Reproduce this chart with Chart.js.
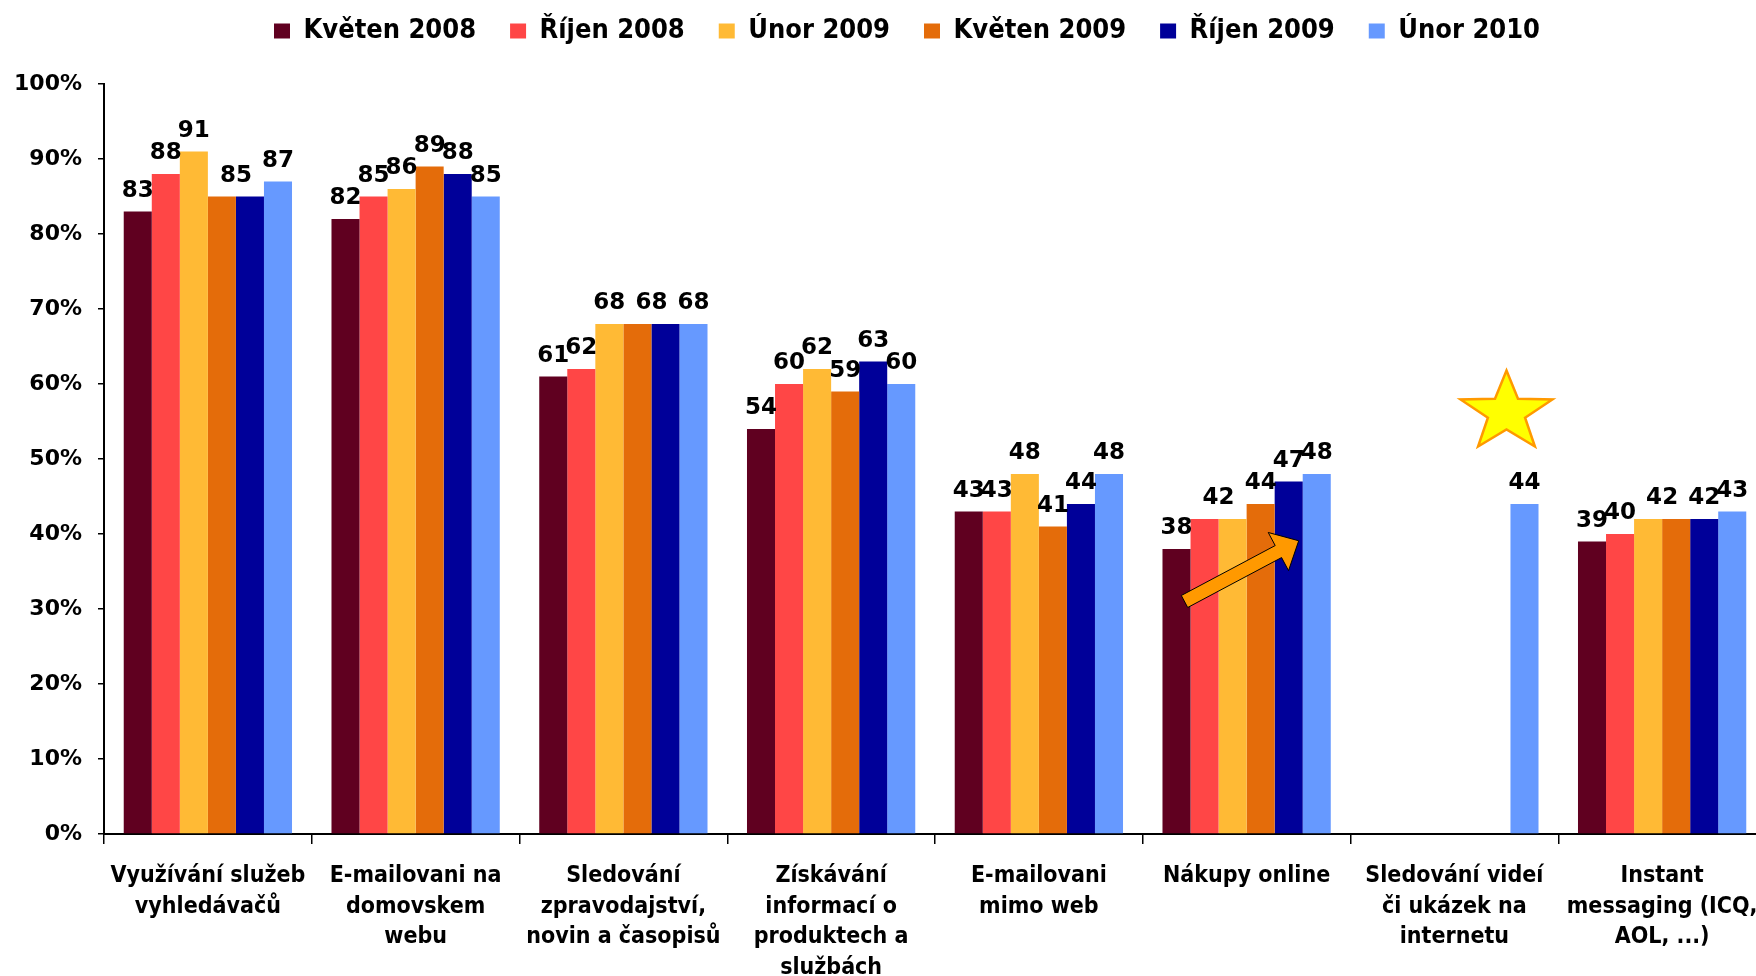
<!DOCTYPE html>
<html>
<head>
<meta charset="utf-8">
<script src="https://cdn.jsdelivr.net/npm/chart.js@4.4.0/dist/chart.umd.min.js"></script>
<style>
  html, body { margin: 0; padding: 0; background: #fff; overflow: hidden; }
  canvas { display: block; }
</style>
</head>
<body>
<canvas id="chart" width="1766" height="976"></canvas>
<script>
// --- data ---
const categories = [
  ["Využívání služeb", "vyhledávačů"],
  ["E-mailovani na", "domovskem", "webu"],
  ["Sledování", "zpravodajství,", "novin a časopisů"],
  ["Získávání", "informací o", "produktech a", "službách"],
  ["E-mailovani", "mimo web"],
  ["Nákupy online"],
  ["Sledování videí", "či ukázek na", "internetu"],
  ["Instant", "messaging (ICQ,", "AOL, ...)"]
];

const seriesNames = ["Květen 2008", "Říjen 2008", "Únor 2009", "Květen 2009", "Říjen 2009", "Únor 2010"];

const kveten2008 = [83, 82, 61, 54, 43, 38, null, 39];
const rijen2008  = [88, 85, 62, 60, 43, 42, null, 40];
const unor2009   = [91, 86, 68, 62, 48, 42, null, 42];
const kveten2009 = [85, 89, 68, 59, 41, 44, null, 42];
const rijen2009  = [85, 88, 68, 63, 44, 47, null, 42];
const unor2010   = [87, 85, 68, 60, 48, 48, 44, 43];

const yTicks = [0, 10, 20, 30, 40, 50, 60, 70, 80, 90, 100];

// equal neighbouring values that share one label: [category, first series]
const sharedLabels = [[0, 3], [2, 3], [5, 1], [7, 2]];

const seriesColors = ["#600020", "#FF4646", "#FFBA35", "#E46C0A", "#000099", "#6699FF"];
const FONT_NARROW = "'DejaVu Sans Condensed', 'DejaVu Sans'";
const FONT = "'DejaVu Sans'";

// --- plugins ---
// extra gap under the legend, legend nudged right
const legendTweak = {
  id: "legendTweak",
  beforeInit(chart) {
    const legend = chart.legend;
    const fit = legend.fit;
    legend.fit = function () {
      fit.call(this);
      this.height += 29.5;
    };
    const draw = legend.draw;
    legend.draw = function () {
      this.ctx.save();
      this.ctx.translate(24, 0);
      draw.call(this);
      this.ctx.restore();
    };
  }
};

// value labels above bars
const valueLabels = {
  id: "valueLabels",
  afterDatasetsDraw(chart) {
    const ctx = chart.ctx;
    ctx.save();
    ctx.font = "bold 23px " + FONT;
    ctx.fillStyle = "#000";
    ctx.textAlign = "center";
    ctx.textBaseline = "alphabetic";
    chart.data.datasets.forEach((ds, i) => {
      chart.getDatasetMeta(i).data.forEach((bar, j) => {
        const v = ds.data[j];
        if (v == null) return;
        if (sharedLabels.some(([c, s]) => c === j && s + 1 === i)) return;
        let x = bar.x;
        if (sharedLabels.some(([c, s]) => c === j && s === i)) {
          x = (bar.x + chart.getDatasetMeta(i + 1).data[j].x) / 2;
        }
        ctx.fillText(String(v), x, bar.y - 15);
      });
    });
    ctx.restore();
  }
};

// arrow over "Nákupy online" and star over "Sledování videí"
const annotations = {
  id: "annotations",
  afterDraw(chart) {
    const ctx = chart.ctx;
    const y = chart.scales.y;

    // arrow
    const tailBar = chart.getDatasetMeta(0).data[5];
    const tipBar = chart.getDatasetMeta(4).data[5];
    const x0 = tailBar.x + 8, y0 = y.getPixelForValue(31.0);
    const x1 = tipBar.x + 10, y1 = y.getPixelForValue(39.1);
    const len = Math.hypot(x1 - x0, y1 - y0);
    const ux = (x1 - x0) / len, uy = (y1 - y0) / len;
    const nx = -uy, ny = ux;
    const hw = 6.8, headW = 21.6, headL = 23;
    const bx = x1 - ux * headL, by = y1 - uy * headL;
    ctx.save();
    ctx.beginPath();
    ctx.moveTo(x0 + nx * hw, y0 + ny * hw);
    ctx.lineTo(bx + nx * hw, by + ny * hw);
    ctx.lineTo(bx + nx * headW, by + ny * headW);
    ctx.lineTo(x1, y1);
    ctx.lineTo(bx - nx * headW, by - ny * headW);
    ctx.lineTo(bx - nx * hw, by - ny * hw);
    ctx.lineTo(x0 - nx * hw, y0 - ny * hw);
    ctx.closePath();
    ctx.fillStyle = "#FF9900";
    ctx.fill();
    ctx.strokeStyle = "#000";
    ctx.lineWidth = 1;
    ctx.stroke();

    // star
    const starBar = chart.getDatasetMeta(5).data[6];
    const cx = starBar.x - 18, cy = y.getPixelForValue(56.2);
    const R = 42, r = 17, sx = 1.15;
    ctx.beginPath();
    for (let k = 0; k < 10; k++) {
      const a = -Math.PI / 2 + k * Math.PI / 5;
      const rad = k % 2 === 0 ? R : r;
      const px = cx + Math.cos(a) * rad * sx, py = cy + Math.sin(a) * rad;
      if (k === 0) ctx.moveTo(px, py); else ctx.lineTo(px, py);
    }
    ctx.closePath();
    ctx.fillStyle = "#FFFF00";
    ctx.fill();
    ctx.strokeStyle = "#FF9900";
    ctx.lineWidth = 2.5;
    ctx.stroke();
    ctx.restore();
  }
};

// --- chart ---
const seriesValues = [kveten2008, rijen2008, unor2009, kveten2009, rijen2009, unor2010];

const ctx = document.getElementById("chart").getContext("2d");
new Chart(ctx, {
  type: "bar",
  data: {
    labels: categories,
    datasets: seriesNames.map((name, i) => ({
      label: name,
      data: seriesValues[i],
      backgroundColor: seriesColors[i],
      borderWidth: 0,
      categoryPercentage: 0.81,
      barPercentage: 1.0
    }))
  },
  options: {
    responsive: false,
    animation: false,
    devicePixelRatio: 1,
    layout: { padding: { top: -16.5, left: 0, right: 0, bottom: 0 } },
    plugins: {
      legend: {
        position: "top",
        labels: {
          boxWidth: 16,
          boxHeight: 15,
          padding: 34,
          color: "#000",
          font: { family: FONT_NARROW, size: 27, weight: "bold" }
        }
      },
      tooltip: { enabled: false }
    },
    scales: {
      x: {
        afterFit(scale) {
          scale.height = 142;
          scale.paddingLeft = 0;
          scale.paddingRight = 0;
        },
        grid: { drawOnChartArea: false, color: "#000", lineWidth: 1.5, tickLength: 10 },
        border: { color: "#000", width: 2 },
        ticks: {
          autoSkip: false,
          maxRotation: 0,
          minRotation: 0,
          padding: 17,
          color: "#000",
          font: { family: FONT_NARROW, size: 23, weight: "bold", lineHeight: 1.33 }
        }
      },
      y: {
        min: 0,
        max: 100,
        afterFit(scale) { scale.width = 104; },
        afterBuildTicks(scale) { scale.ticks = yTicks.map(v => ({ value: v })); },
        grid: { drawOnChartArea: false, color: "#000", lineWidth: 1.5, tickLength: 6 },
        border: { color: "#000", width: 2 },
        ticks: {
          padding: 16,
          color: "#000",
          font: { family: FONT, size: 22, weight: "bold" },
          callback: v => v + "%"
        }
      }
    }
  },
  plugins: [legendTweak, valueLabels, annotations]
});
</script>
</body>
</html>
